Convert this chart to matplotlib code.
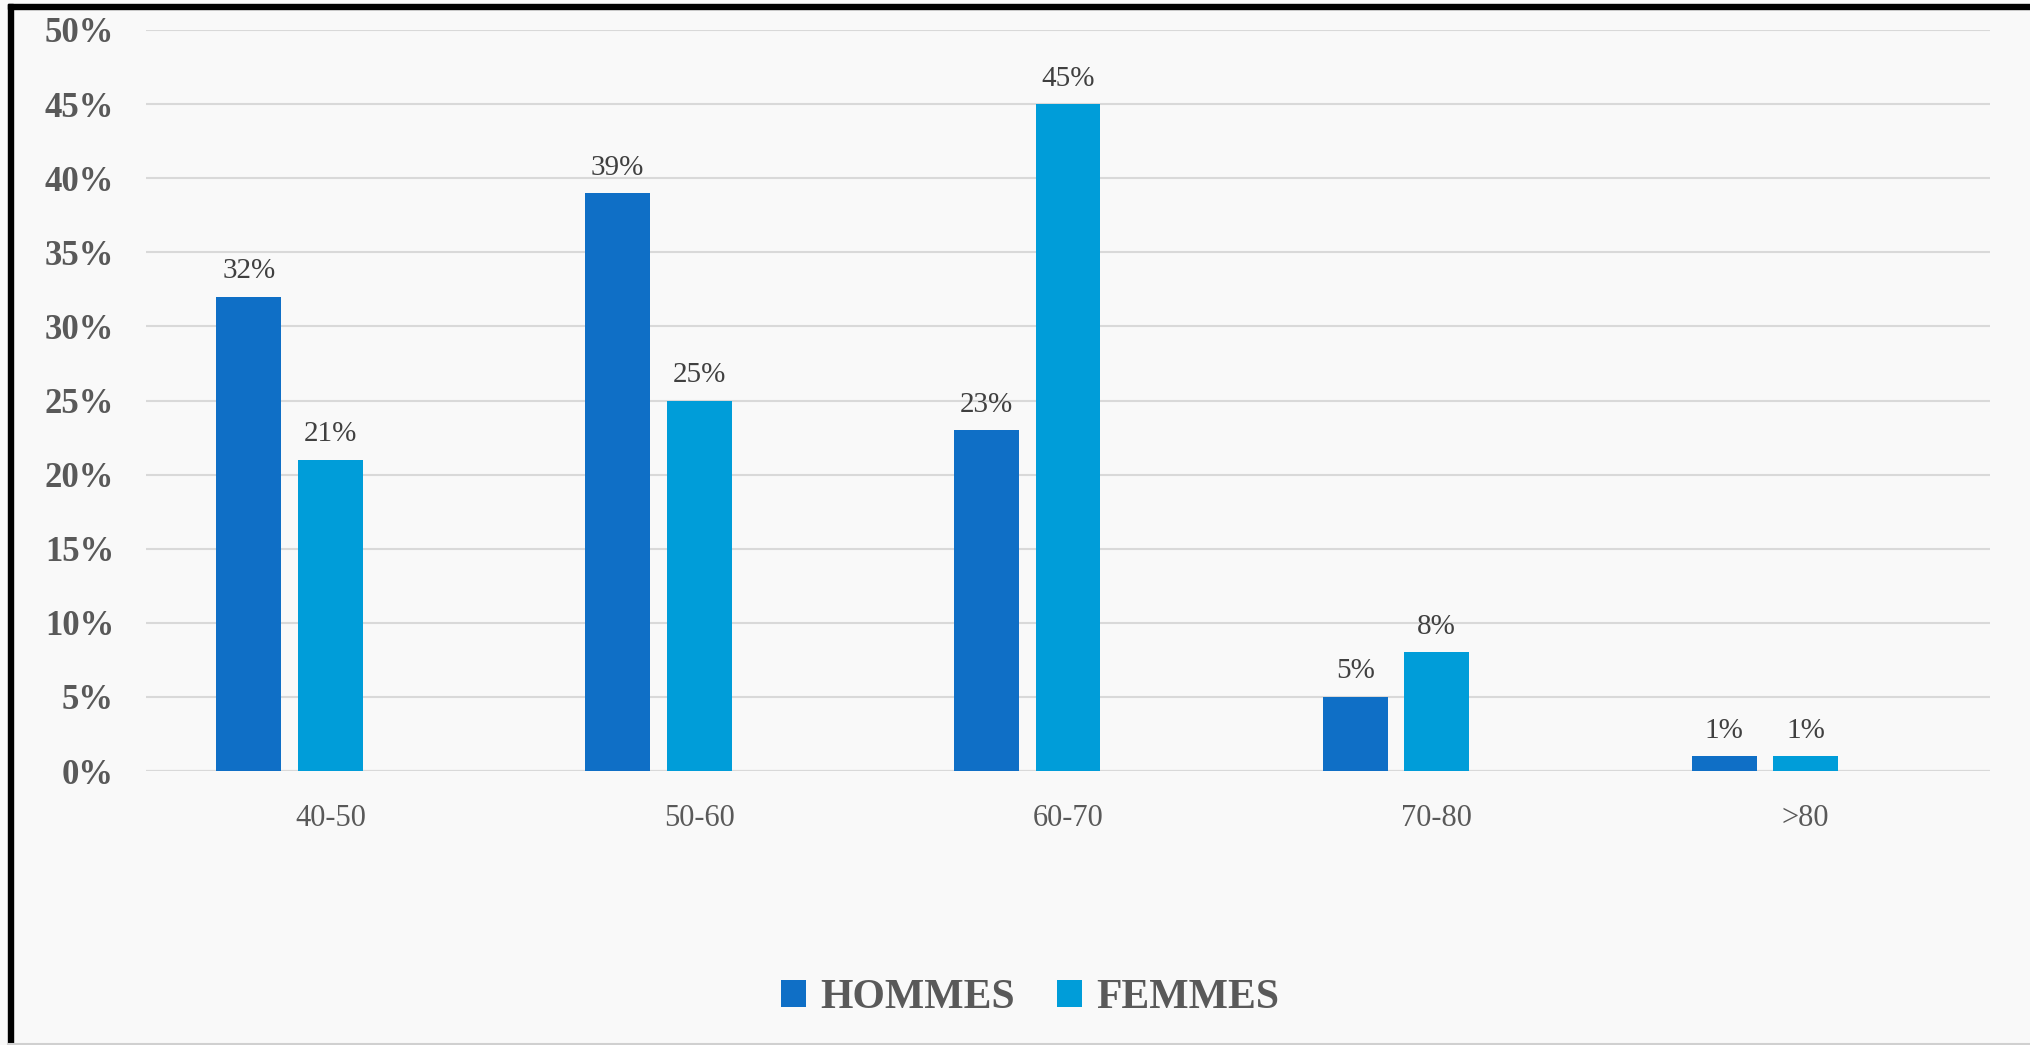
import matplotlib
matplotlib.use("Agg")
import matplotlib.pyplot as plt
import numpy as np
from matplotlib.patches import Rectangle
from matplotlib.lines import Line2D

categories = ["40-50", "50-60", "60-70", "70-80", ">80"]
hommes = [32, 39, 23, 5, 1]
femmes = [21, 25, 45, 8, 1]
series_names = ["HOMMES", "FEMMES"]
yticks = [0, 5, 10, 15, 20, 25, 30, 35, 40, 45, 50]

plt.rcParams['font.family'] = ['Liberation Serif', 'DejaVu Serif']

W, H = 2030, 1045
fig = plt.figure(figsize=(W / 100, H / 100), dpi=100)
fig.patch.set_facecolor('#f9f9f9')

ax = fig.add_axes([146 / W, 1 - 771 / H, (1990 - 146) / W, (771 - 30) / H])
ax.set_facecolor('#f9f9f9')

x = np.arange(len(categories))
bw = 0.176
step = 0.221
c_h = '#0f6fc6'
c_f = '#009dd9'

b1 = ax.bar(x - step, hommes, width=bw, color=c_h, zorder=3, label=series_names[0])
b2 = ax.bar(x, femmes, width=bw, color=c_f, zorder=3, label=series_names[1])

for bars in (b1, b2):
    ax.bar_label(bars, labels=[f"{v}%" for v in bars.datavalues], padding=9,
                 fontsize=21, color='#404040')

ax.set_xlim(-0.5, 4.5)
ax.set_ylim(0, 50)
ax.set_yticks(yticks)
ax.set_yticklabels([f"{v}%" for v in yticks], fontsize=25, fontweight='bold', color='#595959')
ax.set_xticks(x)
ax.set_xticklabels(categories, fontsize=22, color='#595959')
ax.tick_params(axis='y', length=0, pad=23)
ax.tick_params(axis='x', length=0, pad=24)
ax.grid(axis='y', color='#d9d9d9', linewidth=1.5, zorder=0)
for s in ax.spines.values():
    s.set_visible(False)
ax.axhline(0, color='#d9d9d9', linewidth=1.5, zorder=2)

leg = fig.legend(handles=[b1, b2], labels=series_names, loc='center',
                 bbox_to_anchor=(1030 / W, 1 - 998 / H), ncol=2, frameon=False,
                 prop={'family': 'Liberation Serif', 'weight': 'bold', 'size': 30},
                 handlelength=0.6, handleheight=0.6, handletextpad=0.35,
                 columnspacing=1.0)
for t in leg.get_texts():
    t.set_color('#595959')

# frame border: black top and left, light bottom
fig.add_artist(Rectangle((8 / W, 0), 5 / W, 1 - 4 / H, transform=fig.transFigure,
                         color='black', zorder=10))
fig.add_artist(Rectangle((8 / W, 1 - 9 / H), 1 - 8 / W, 5 / H, transform=fig.transFigure,
                         color='black', zorder=10))
fig.add_artist(Line2D([8 / W, 1], [1.5 / H, 1.5 / H], transform=fig.transFigure,
                      color='#d0d0d0', linewidth=1.5, zorder=10))

fig.savefig('out.png', dpi=100, facecolor=fig.get_facecolor())
